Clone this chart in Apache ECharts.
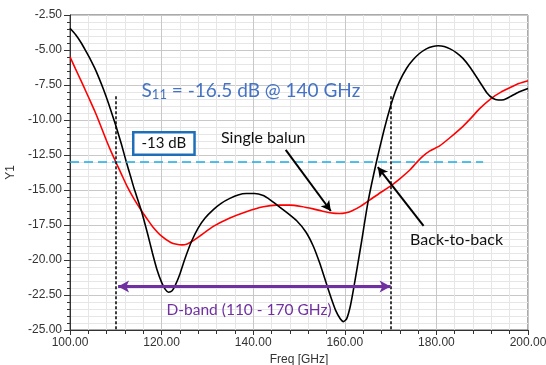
<!DOCTYPE html>
<html><head><meta charset="utf-8">
<script src="https://cdn.jsdelivr.net/npm/echarts@6/dist/echarts.min.js"></script>
<style>html,body{margin:0;padding:0;background:#fff}#c{width:546px;height:365px}</style>
</head><body><div id="c"></div>
<script>
// Back-to-back (black) [freq GHz, dB]
const backToBack = [
 [100,-3.45],[101.2,-3.9],[102.5,-4.52],[103.5,-5.1],[104.5,-5.7],[105.4,-6.3],[106.2,-6.9],[107.3,-7.8],[108.4,-8.8],[110,-10.4],[111.2,-11.7],[112.3,-13.0],
 [113.2,-14.0],[114,-14.9],[115.5,-16.4],[117,-18.2],[118,-19.5],[119,-20.7],[120,-21.6],[120.8,-22.1],[121.5,-22.3],
 [122.3,-22.2],[123,-21.8],[124,-21.0],[125,-20.0],[126.5,-18.7],[128,-17.7],[129.5,-17.0],[131.3,-16.4],[133,-15.95],
 [134.9,-15.6],[136.7,-15.35],[138.5,-15.25],[140.3,-15.25],[142.2,-15.4],[143.7,-15.7],[145.1,-16.05],[147.3,-16.6],[149.5,-17.2],
 [151.5,-18.0],[153.1,-19.0],[154.5,-20.2],[155.8,-21.5],[157,-22.7],[158,-23.6],[159,-24.2],
 [159.7,-24.4],[160.4,-24.2],[161.2,-23.3],[162,-21.9],[163.5,-19.0],[165.1,-15.8],[166.9,-13.0],
 [168.5,-10.8],[170,-9.0],[171,-8.0],[172,-7.2],[173.5,-6.3],[174.9,-5.7],[176.3,-5.25],[177.8,-4.92],[179.2,-4.75],[180.4,-4.7],[181.7,-4.75],[183,-4.92],
 [184.4,-5.2],[185.8,-5.6],[187.5,-6.3],[189.5,-7.3],[191,-8.05],[192.3,-8.45],[193.5,-8.57],[194.7,-8.55],[196,-8.35],[198,-8.0],[200,-7.75]
];
// Single balun (red)
const singleBalun = [
 [100,-5.48],[101.2,-6.35],[102.5,-7.26],[103.5,-7.98],[104.5,-8.7],[105.4,-9.36],[106.2,-10.0],[107.1,-10.75],[108,-11.5],[109,-12.28],[110,-13.0],[111.2,-13.85],[112.5,-14.76],
 [114,-15.65],[115.5,-16.43],[116.8,-17.05],[118,-17.6],[120,-18.3],[122,-18.75],[123.3,-18.88],[124.5,-18.92],[125.6,-18.85],[126.5,-18.7],[128.5,-18.25],
 [131.3,-17.6],[134.9,-17.0],[138.5,-16.55],[142.2,-16.2],[145.1,-16.08],[148,-16.08],
 [150.5,-16.18],[153.1,-16.35],[155,-16.5],[156.7,-16.62],[158.9,-16.68],[160.3,-16.62],[161.5,-16.5],[163.5,-16.15],
 [165.5,-15.7],[167.5,-15.25],[169.8,-14.76],[172,-14.2],[174.2,-13.57],[175.5,-13.1],[177,-12.6],
 [178.5,-12.22],[180.7,-11.85],[183,-11.25],[185.8,-10.45],[187.6,-9.85],[189.5,-9.17],[192,-8.45],
 [194,-8.03],[196,-7.7],[198,-7.4],[200,-7.2]
];
// Axis ticks
const xTicks = [100,120,140,160,180,200];
const yTicks = [-25,-22.5,-20,-17.5,-15,-12.5,-10,-7.5,-5,-2.5];
// Annotation values (data space)
const thresholdDb = -13;
const thresholdEnd = 190.2;
const bandEdges = [110,170];
const bandEdgeTop = -8.3;
const bandArrowDb = -21.9;
const bandArrowFrom = 110.5;
const singleArrow = [[147.1,-12.14],[156.95,-16.5]];
const b2bArrow = [[177.2,-17.57],[167.2,-13.36]];
const labelS11 = [139.5,-7.93];
const label13 = [120.5,-11.68];
const labelSingle = [142.2,-11.25];
const labelB2B = [184.4,-18.57];
const labelBand = [139.1,-23.57];

const chart = echarts.init(document.getElementById('c'));
const txtFont = 'Lato, "Open Sans", sans-serif';
function mp(coord, formatter, label){
  return {coord, symbol:'circle', symbolSize:1, itemStyle:{color:'rgba(0,0,0,0)'},
    label:Object.assign({show:true, position:'inside', formatter, fontFamily:txtFont}, label)};
}
chart.setOption({
  animation:false,
  grid:{left:70,right:18,top:15,bottom:35,show:true,borderColor:'#555',borderWidth:1,
        outerBoundsMode:'none',containLabel:false},
  xAxis:{type:'value',min:xTicks[0],max:xTicks[xTicks.length-1],interval:20,
    name:'Freq [GHz]',nameLocation:'middle',nameGap:22,
    nameTextStyle:{fontFamily:'Liberation Sans, Arial',fontSize:12,color:'#333'},
    axisLine:{lineStyle:{color:'#333'}},
    axisTick:{length:5,lineStyle:{color:'#333'}},
    minorTick:{show:true,splitNumber:5,length:4,lineStyle:{color:'#333'}},
    axisLabel:{formatter:v=>v.toFixed(2),fontFamily:'Liberation Sans, Arial',fontSize:12,color:'#333',margin:7},
    splitLine:{lineStyle:{color:'#c8c8c8'}},
    minorSplitLine:{show:true,lineStyle:{color:'#e6e6e6'}}
  },
  yAxis:{type:'value',min:yTicks[0],max:yTicks[yTicks.length-1],interval:2.5,
    name:'Y1',nameLocation:'middle',nameGap:50,
    nameTextStyle:{fontFamily:'Liberation Sans, Arial',fontSize:12,color:'#333'},
    axisLine:{show:true,lineStyle:{color:'#333'}},
    axisTick:{show:true,length:6,lineStyle:{color:'#333'}},
    minorTick:{show:true,splitNumber:5,length:3,lineStyle:{color:'#333'}},
    axisLabel:{formatter:v=>v.toFixed(2),fontFamily:'Liberation Sans, Arial',fontSize:12,color:'#333',margin:8},
    splitLine:{lineStyle:{color:'#c8c8c8'}},
    minorSplitLine:{show:true,lineStyle:{color:'#e6e6e6'}}
  },
  series:[
    {type:'line',name:'Single balun',data:singleBalun,smooth:0.2,showSymbol:false,
     lineStyle:{color:'#ff0000',width:1.6},itemStyle:{color:'#ff0000'}},
    {type:'line',name:'Back-to-back',data:backToBack,smooth:0.2,showSymbol:false,
     lineStyle:{color:'#000',width:1.6},itemStyle:{color:'#000'}},
    {type:'line',data:[],silent:true,
     markLine:{silent:true,animation:false,label:{show:false},
       data:[
        [{coord:[xTicks[0],thresholdDb],symbol:'none',lineStyle:{color:'#1aafe6',type:[9,5],width:1.5}},
         {coord:[thresholdEnd,thresholdDb],symbol:'none'}],
        [{coord:[bandEdges[0],bandEdgeTop],symbol:'none',lineStyle:{color:'#000',type:[3,2],width:1.5}},
         {coord:[bandEdges[0],yTicks[0]],symbol:'none'}],
        [{coord:[bandEdges[1],bandEdgeTop],symbol:'none',lineStyle:{color:'#000',type:[3,2],width:1.5}},
         {coord:[bandEdges[1],yTicks[0]],symbol:'none'}],
        [{coord:[bandArrowFrom,bandArrowDb],symbol:'arrow',symbolSize:[9,11],lineStyle:{color:'#7030a0',type:'solid',width:3}},
         {coord:[bandEdges[1],bandArrowDb],symbol:'arrow',symbolSize:[9,11]}],
        [{coord:singleArrow[0],symbol:'none',lineStyle:{color:'#000',type:'solid',width:2}},
         {coord:singleArrow[1],symbol:'arrow',symbolSize:[8,10]}],
        [{coord:b2bArrow[0],symbol:'none',lineStyle:{color:'#000',type:'solid',width:2}},
         {coord:b2bArrow[1],symbol:'arrow',symbolSize:[8,10]}]
       ]},
     markPoint:{silent:true,animation:false,
       data:[
        mp(labelS11,'{a|S}{b|11}{a| = -16.5 dB @ 140 GHz}',{
          rich:{a:{fontSize:19,color:'#4472c4',fontFamily:txtFont},
                b:{fontSize:13,color:'#4472c4',fontFamily:txtFont,padding:[7,0,0,0]}}}),
        mp(label13,'-13 dB',{fontSize:15,color:'#111',backgroundColor:'#fff',
          borderColor:'#1f6fb8',borderWidth:2.5,padding:[3,7,2,7]}),
        mp(labelSingle,'Single balun',{fontSize:16,color:'#111'}),
        mp(labelB2B,'Back-to-back',{fontSize:16,color:'#111'}),
        mp(labelBand,'D-band (110 - 170 GHz)',{fontSize:15.5,color:'#7030a0'})
       ]}
    }
  ]
});
</script></body></html>
